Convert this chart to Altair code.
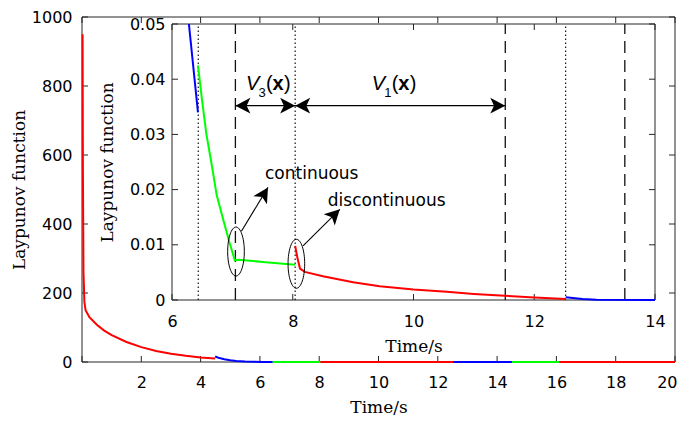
import math
import altair as alt
import pandas as pd

# ---------------- data ----------------
red_a_t = [0.02, 0.03, 0.05, 0.08, 0.12, 0.25, 0.5, 0.75, 1.0, 1.5, 2.0, 2.5, 3.0, 3.5, 4.0, 4.49]
red_a_v = [950, 560, 260, 175, 150, 130, 108, 91, 78, 58, 43, 32, 24, 18, 13, 10]
blue_a_t = [4.49, 4.6, 4.8, 5.0, 5.2, 5.5, 5.8, 6.1, 6.28, 6.43]
blue_a_v = [16, 12.5, 8, 5, 3, 1.4, 0.6, 0.2, 0.05, 0.034]
green_a_t = [6.43, 6.5, 6.57, 6.65, 6.74, 6.85, 6.95, 7.04, 7.1, 7.5, 8.04]
green_a_v = [0.0425, 0.036, 0.030, 0.025, 0.019, 0.0145, 0.0105, 0.0072, 0.0073, 0.0069, 0.0064]
red_b_t = [8.04, 8.08, 8.12, 8.2, 8.5, 9.0, 9.44, 10.0, 10.55, 11.0, 11.51, 12.0, 12.52]
red_b_v = [0.0098, 0.0075, 0.0057, 0.0051, 0.0043, 0.0032, 0.0025, 0.0019, 0.0015, 0.0011, 0.00077, 0.00045, 0.0002]
blue_b_t = [12.52, 12.8, 13.03, 14.0, 14.5]
blue_b_v = [0.0005, 0.0002, 0.00005, 0.0, 0.0]
green_b_t = [14.5, 16.1]
green_b_v = [0.0, 0.0]
red_c_t = [16.1, 20.0]
red_c_v = [0.0, 0.0]

segments = [("s1", "red", red_a_t, red_a_v), ("s2", "blue", blue_a_t, blue_a_v),
            ("s3", "green", green_a_t, green_a_v), ("s4", "red", red_b_t, red_b_v),
            ("s5", "blue", blue_b_t, blue_b_v), ("s6", "green", green_b_t, green_b_v),
            ("s7", "red", red_c_t, red_c_v)]

mode_names = ["red", "blue", "green"]
mode_colors = ["#FF0000", "#0000FF", "#00FF00"]

main_x_domain = [0, 20]
main_y_domain = [0, 1000]
inset_x_domain = [6, 14]
inset_y_domain = [0, 0.05]
main_x_ticks = [0, 2, 4, 6, 8, 10, 12, 14, 16, 18, 20]
main_x_labels = [2, 4, 6, 8, 10, 12, 14, 16, 18, 20]
main_y_ticks = [0, 200, 400, 600, 800, 1000]
inset_x_ticks = [6, 8, 10, 12, 14]
inset_y_ticks = [0, 0.01, 0.02, 0.03, 0.04, 0.05]

dashed_t = [7.05, 11.52, 13.5]
dotted_t = [6.435, 8.04, 12.52]

span_t0, span_t1, span_v = 7.05, 11.52, 0.0352
head_h_t = [7.05, 8.04, 8.04, 11.52]
head_h_dir = ["left", "right", "left", "right"]

ann_text = ["continuous", "discontinuous"]
ann_text_t = [7.54, 8.58]
ann_text_v = [0.0228, 0.0180]
ann_from_t = [7.15, 8.17]
ann_from_v = [0.01246, 0.0098]
ann_to_t = [7.59, 8.78]
ann_to_v = [0.0204, 0.01643]
ellipse_t = [7.06, 8.06]
ellipse_v = [0.00878, 0.00656]

vlab_t = [7.226, 9.307]
vlab_v = [0.0381, 0.0381]
vlab_sub = ["3", "1"]

# ---------------- layout ----------------
W, H = 593, 345
IX0, IX1 = 90, 573
IY0, IY1 = 283, 7
FRAME = "#262626"

rows = []
for seg, mode, ts, vs in segments:
    for i, (t, v) in enumerate(zip(ts, vs)):
        rows.append({"seg": seg, "mode": mode, "i": i, "t": t, "v": v})
df = pd.DataFrame(rows)

main_x = alt.Scale(domain=main_x_domain, range=[0, W], nice=False, zero=False)
main_y = alt.Scale(domain=main_y_domain, range=[H, 0], nice=False)
ins_x = alt.Scale(domain=inset_x_domain, range=[IX0, IX1], nice=False, zero=False)
ins_y = alt.Scale(domain=inset_y_domain, range=[IY0, IY1], nice=False)
color = alt.Color("mode:N", scale=alt.Scale(domain=mode_names, range=mode_colors), legend=None)


def label_axis(orient, values, offset, pad, flush=False, **kw):
    return alt.Axis(orient=orient, values=values, offset=offset, domain=False, ticks=False,
                    tickSize=0, labelPadding=pad, labelFlush=flush, grid=False, **kw)


def frame_layers(xs, ys, xdom, ydom, xticks, yticks):
    """Box around a panel plus inward-pointing ticks, drawn through the panel's scales."""
    x0, x1 = xdom
    y0, y1 = ydom
    box = pd.DataFrame({"a": [x0, x0, x0, x1], "a2": [x1, x1, x0, x1],
                        "b": [y0, y1, y0, y0], "b2": [y0, y1, y1, y1]})
    rules = alt.Chart(box).mark_rule(color=FRAME, strokeWidth=1).encode(
        x=alt.X("a:Q", scale=xs, axis=None), x2="a2:Q",
        y=alt.Y("b:Q", scale=ys, axis=None), y2="b2:Q")
    out = [rules]
    for yv, off in ((y0, -3), (y1, 3)):
        d = pd.DataFrame({"a": xticks, "b": [yv] * len(xticks)})
        out.append(alt.Chart(d).mark_tick(orient="vertical", size=6, thickness=1, color=FRAME,
                                          yOffset=off, opacity=1).encode(
            x=alt.X("a:Q", scale=xs, axis=None), y=alt.Y("b:Q", scale=ys, axis=None)))
    for xv, off in ((x0, 3), (x1, -3)):
        d = pd.DataFrame({"a": [xv] * len(yticks), "b": yticks})
        out.append(alt.Chart(d).mark_tick(orient="horizontal", size=6, thickness=1, color=FRAME,
                                          xOffset=off, opacity=1).encode(
            x=alt.X("a:Q", scale=xs, axis=None), y=alt.Y("b:Q", scale=ys, axis=None)))
    return out


# main curves with labelled axes
main = alt.Chart(df).mark_line(strokeWidth=2).encode(
    x=alt.X("t:Q", scale=main_x, title="Time/s",
            axis=label_axis("bottom", main_x_labels, 0, 12, flush=True, labelFlushOffset=2,
                            titleY=45, titleBaseline="middle")),
    y=alt.Y("v:Q", scale=main_y, title="Laypunov function",
            axis=label_axis("left", main_y_ticks, 0, 10, format="d", titleX=-63,
                            titleBaseline="middle", titleAngle=270)),
    color=color, detail="seg:N", order="i:Q")

# inset vertical reference lines
dv = pd.DataFrame({"t": dashed_t + dotted_t,
                   "kind": ["dash"] * len(dashed_t) + ["dot"] * len(dotted_t),
                   "v": [inset_y_domain[0]] * 6, "v2": [inset_y_domain[1]] * 6})
vdash = alt.Chart(dv).transform_filter(alt.datum.kind == "dash").mark_rule(
    color="#111111", strokeWidth=1.3, strokeDash=[12, 7]).encode(
    x=alt.X("t:Q", scale=ins_x, axis=None),
    y=alt.Y("v:Q", scale=ins_y, axis=None), y2="v2:Q")
vdot = alt.Chart(dv).transform_filter(alt.datum.kind == "dot").mark_rule(
    color="#111111", strokeWidth=1.2, strokeDash=[1.5, 2.5]).encode(
    x=alt.X("t:Q", scale=ins_x, axis=None),
    y=alt.Y("v:Q", scale=ins_y, axis=None), y2="v2:Q")

# inset curves
inset = alt.Chart(df).transform_filter(
    (alt.datum.t >= 6) & (alt.datum.t <= 14) & (alt.datum.v <= 0.05)
).mark_line(strokeWidth=2).encode(
    x=alt.X("t:Q", scale=ins_x, title="Time/s",
            axis=label_axis("bottom", inset_x_ticks, -(H - IY0), 13, titleY=46,
                            titleBaseline="middle")),
    y=alt.Y("v:Q", scale=ins_y, title="Laypunov function",
            axis=label_axis("left", inset_y_ticks, -IX0, 7, format="~g", titleX=-65,
                            titleBaseline="middle", titleAngle=270)),
    color=color, detail="seg:N", order="i:Q")

# horizontal span arrow
dspan = pd.DataFrame({"t": [span_t0], "t2": [span_t1], "v": [span_v]})
span = alt.Chart(dspan).mark_rule(color="black", strokeWidth=1.2).encode(
    x=alt.X("t:Q", scale=ins_x, axis=None), x2="t2:Q",
    y=alt.Y("v:Q", scale=ins_y, axis=None))

px_t = (IX1 - IX0) / (inset_x_domain[1] - inset_x_domain[0])
px_v = (IY0 - IY1) / (inset_y_domain[1] - inset_y_domain[0])


def head_angle(t0, v0, t1, v1):
    dx = (t1 - t0) * px_t
    dy = -(v1 - v0) * px_v
    phi = math.degrees(math.atan2(dy, dx))
    return (phi - 180.0) % 360.0


heads = pd.DataFrame({
    "t": head_h_t + ann_to_t,
    "v": [span_v] * len(head_h_t) + ann_to_v,
    "ang": [0.0 if d == "left" else 180.0 for d in head_h_dir]
           + [head_angle(a, b, c, d) for a, b, c, d in zip(ann_from_t, ann_from_v, ann_to_t, ann_to_v)],
})
HEAD = "M0,0 L2,-1.05 L1.5,0 L2,1.05 Z"
head_marks = alt.Chart(heads).mark_point(shape=HEAD, filled=True, size=225, color="black",
                                         opacity=1, strokeWidth=0.5).encode(
    x=alt.X("t:Q", scale=ins_x, axis=None),
    y=alt.Y("v:Q", scale=ins_y, axis=None),
    angle=alt.Angle("ang:Q", scale=None))

dann = pd.DataFrame({"t": ann_from_t, "v": ann_from_v, "t2": ann_to_t, "v2": ann_to_v})
ann_lines = alt.Chart(dann).mark_rule(color="black", strokeWidth=1.1).encode(
    x=alt.X("t:Q", scale=ins_x, axis=None), x2="t2:Q",
    y=alt.Y("v:Q", scale=ins_y, axis=None), y2="v2:Q")

ELL = "M-0.34,0 A0.34,1 0 1,0 0.34,0 A0.34,1 0 1,0 -0.34,0 Z"
dell = pd.DataFrame({"t": ellipse_t, "v": ellipse_v})
ellipses = alt.Chart(dell).mark_point(shape=ELL, filled=False, size=2400, color="black",
                                      strokeWidth=1, opacity=1).encode(
    x=alt.X("t:Q", scale=ins_x, axis=None),
    y=alt.Y("v:Q", scale=ins_y, axis=None))

dtxt = pd.DataFrame({"t": ann_text_t, "v": ann_text_v, "txt": ann_text})
ann_txt = alt.Chart(dtxt).mark_text(font="DejaVu Sans", fontSize=17, align="left",
                                    baseline="middle", color="black").encode(
    x=alt.X("t:Q", scale=ins_x, axis=None),
    y=alt.Y("v:Q", scale=ins_y, axis=None), text="txt:N")

dvl = pd.DataFrame({"t": vlab_t, "v": vlab_v, "sub": vlab_sub,
                    "V": ["V", "V"], "lp": ["(", "("], "x": ["x", "x"], "rp": [")", ")"]})


def vpiece(field, dx, dy=0, size=20, style="normal", weight="normal"):
    return alt.Chart(dvl).mark_text(font="Liberation Sans", fontSize=size, align="left",
                                    baseline="alphabetic", dx=dx, dy=dy, fontStyle=style,
                                    fontWeight=weight, color="black").encode(
        x=alt.X("t:Q", scale=ins_x, axis=None),
        y=alt.Y("v:Q", scale=ins_y, axis=None), text=f"{field}:N")


vlabels = [vpiece("V", 0, style="italic"), vpiece("sub", 12.5, dy=7, size=13),
           vpiece("lp", 20), vpiece("x", 26.5, weight="bold"), vpiece("rp", 38)]

main_frame = frame_layers(main_x, main_y, main_x_domain, main_y_domain, main_x_ticks, main_y_ticks)
inset_frame = frame_layers(ins_x, ins_y, inset_x_domain, inset_y_domain, inset_x_ticks, inset_y_ticks)

chart = alt.layer(
    *main_frame, main, *inset_frame, vdash, vdot, inset, span, ann_lines,
    head_marks, ellipses, ann_txt, *vlabels
).resolve_scale(x="independent", y="independent").properties(
    width=W, height=H,
    padding={"left": 74, "top": 9, "right": 2, "bottom": 56},
    autosize=alt.AutoSizeParams(type="none"),
).configure_view(stroke=None).configure_axis(
    labelFont="DejaVu Sans", labelFontSize=16, labelColor="black",
    titleFont="DejaVu Serif", titleFontSize=17, titleFontWeight="normal", titleColor="black",
)

chart.save("out.html", embed_options={"renderer": "svg", "actions": False})
